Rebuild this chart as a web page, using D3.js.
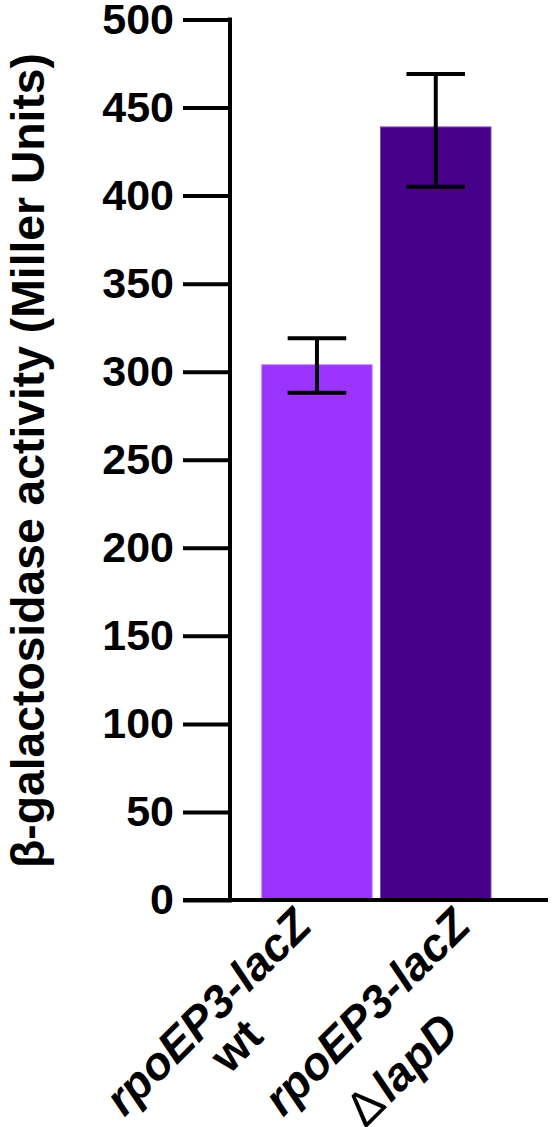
<!DOCTYPE html>
<html>
<head>
<meta charset="utf-8">
<script src="https://cdn.jsdelivr.net/npm/d3@7"></script>
<style>
  html, body { margin: 0; padding: 0; background: #fff; }
  svg { display: block; }
  text { font-family: "Liberation Sans", Arial, Helvetica, sans-serif; }
</style>
</head>
<body>
<svg id="chart" width="553" height="1127"></svg>
<script>
// ---- data ----
const categories = ["wt", "lapD"];
const labelLine1 = ["rpoEP3-lacZ", "rpoEP3-lacZ"];
const labelLine2Prefix = ["", "\u0394"];
const labelLine2 = ["wt", "lapD"];
const labelLine2Italic = [false, true];
const means = [304, 439];
const errLow = [288, 405];
const errHigh = [319, 469];
const yTicks = [0, 50, 100, 150, 200, 250, 300, 350, 400, 450, 500];
const yTitle = "\u03B2-galactosidase activity (Miller Units)";
const fills = ["#9B33FF", "#46008A"];
const edges = ["#C38CFF", "#7F4FC2"];

// ---- layout ----
const svg = d3.select("#chart");
const axisX = 230, baseY = 900, topY = 19.5;
const y = d3.scaleLinear().domain([0, 500]).range([baseY, topY]);
const x = d3.scaleBand().domain(categories).range([261.7, 491]).paddingInner(0.07).paddingOuter(0);
const labelNudge = [-3, 37];
const labFont = 46;

// bars
svg.selectAll("rect.bar").data(categories).join("rect")
  .attr("class", "bar")
  .attr("x", d => x(d))
  .attr("width", x.bandwidth())
  .attr("y", (d, i) => y(means[i]))
  .attr("height", (d, i) => y(0) - y(means[i]))
  .attr("fill", (d, i) => fills[i])
  .attr("stroke", (d, i) => edges[i])
  .attr("stroke-width", 1);

// error bars
const capW = x.bandwidth() * 0.53;
const eb = svg.selectAll("g.err").data(categories).join("g").attr("class", "err")
  .attr("stroke", "#000").attr("stroke-width", 4);
eb.append("line")
  .attr("x1", d => x(d) + x.bandwidth() / 2).attr("x2", d => x(d) + x.bandwidth() / 2)
  .attr("y1", (d, i) => y(errLow[i])).attr("y2", (d, i) => y(errHigh[i]));
eb.append("line")
  .attr("x1", d => x(d) + x.bandwidth() / 2 - capW / 2).attr("x2", d => x(d) + x.bandwidth() / 2 + capW / 2)
  .attr("y1", (d, i) => y(errLow[i])).attr("y2", (d, i) => y(errLow[i]));
eb.append("line")
  .attr("x1", d => x(d) + x.bandwidth() / 2 - capW / 2).attr("x2", d => x(d) + x.bandwidth() / 2 + capW / 2)
  .attr("y1", (d, i) => y(errHigh[i])).attr("y2", (d, i) => y(errHigh[i]));

// y axis
const yAxis = d3.axisLeft(y).tickValues(yTicks).tickSize(47).tickPadding(9).tickSizeOuter(0);
const gy = svg.append("g").attr("transform", `translate(${axisX},0)`).call(yAxis);
gy.select(".domain").attr("stroke", "#000").attr("stroke-width", 4)
  .attr("d", `M0,${y(500) - 2}V${y(0) + 2}`);
gy.selectAll(".tick line").attr("stroke", "#000").attr("stroke-width", 4).attr("x2", -47).attr("x1", 2);
gy.selectAll(".tick text").attr("fill", "#000").attr("font-size", 43).attr("font-weight", "bold")
  .attr("font-family", '"Liberation Sans", Arial, sans-serif');

// x axis baseline
svg.append("line").attr("x1", axisX - 47).attr("x2", 548)
  .attr("y1", y(0)).attr("y2", y(0)).attr("stroke", "#000").attr("stroke-width", 4);

// y title
svg.append("text")
  .attr("transform", `translate(44,460.5) rotate(-90)`)
  .attr("text-anchor", "middle")
  .attr("font-size", 46).attr("font-weight", "bold")
  .attr("textLength", 815).attr("lengthAdjust", "spacingAndGlyphs")
  .text(yTitle);

// category labels
const lg = svg.selectAll("g.lab").data(categories).join("g").attr("class", "lab")
  .attr("transform", (d, i) => `translate(${x(d) + x.bandwidth() / 2 + labelNudge[i]},${y(0) + 28}) rotate(-45)`);
lg.each(function (d, i) {
  const g = d3.select(this);
  const t1 = g.append("text").attr("text-anchor", "end")
    .attr("font-size", labFont).attr("font-weight", "bold").attr("font-style", "italic")
    .text(labelLine1[i]);
  const L1 = t1.node().getComputedTextLength();
  const hasSym = !!labelLine2Prefix[i];
  const lineGap = hasSym ? 66 : 44;
  const t2 = g.append("text").attr("text-anchor", "middle")
    .attr("x", -L1 / 2 - (hasSym ? 16 : 4)).attr("y", lineGap)
    .attr("font-size", labFont).attr("font-weight", "bold");
  if (hasSym) t2.append("tspan").attr("font-weight", "normal").attr("font-size", labFont * 1.05).text(labelLine2Prefix[i]);
  t2.append("tspan").attr("dx", hasSym ? 4 : 0).attr("font-style", labelLine2Italic[i] ? "italic" : "normal").text(labelLine2[i]);
});
</script>
</body>
</html>
